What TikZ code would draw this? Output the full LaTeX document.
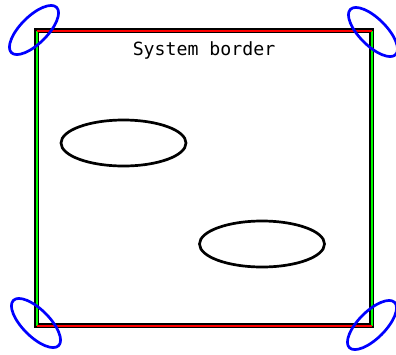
\documentclass[tikz,border=0pt]{standalone}
\usepackage{fontspec}
\setmonofont{DejaVu Sans Mono}
\usetikzlibrary{positioning, shapes.geometric}
\tikzset{
  frame/.style={draw=black, line width=5pt, minimum width=335pt, minimum height=295pt, inner sep=0pt, outer sep=0pt},
  hedge/.style={draw=red, line width=2pt},
  vedge/.style={draw=green, line width=2pt},
  blob/.style={ellipse, draw=black, line width=2.7pt, minimum width=125pt, minimum height=46pt, inner sep=0pt},
  corner/.style={ellipse, draw=blue, line width=2.7pt, minimum width=64pt, minimum height=27pt, inner sep=0pt},
  label/.style={font=\ttfamily\fontsize{18.2}{20}\selectfont, inner sep=0pt},
}

\begin{document}
\begin{tikzpicture}[x=1pt, y=-1pt]
  \useasboundingbox (0,0) rectangle (396,354);
  \node[frame] (sys) at (204,178) {};
  \draw[vedge] (sys.north west) -- (sys.south west);
  \draw[vedge] (sys.north east) -- (sys.south east);
  \draw[hedge] (sys.north west) -- (sys.north east);
  \draw[hedge] (sys.south west) -- (sys.south east);
  \node[label, below=11pt of sys.north] (title) {System border};
  \node[blob] (e1) at (123.5,143) {};
  \node[blob] (e2) at (262,244) {};
  \node[corner, rotate=45] (c1) at (34,30) {};
  \node[corner, rotate=-45] (c2) at (373,32) {};
  \node[corner, rotate=-45] (c3) at (36,323) {};
  \node[corner, rotate=45] (c4) at (372,325) {};
\end{tikzpicture}
\end{document}
